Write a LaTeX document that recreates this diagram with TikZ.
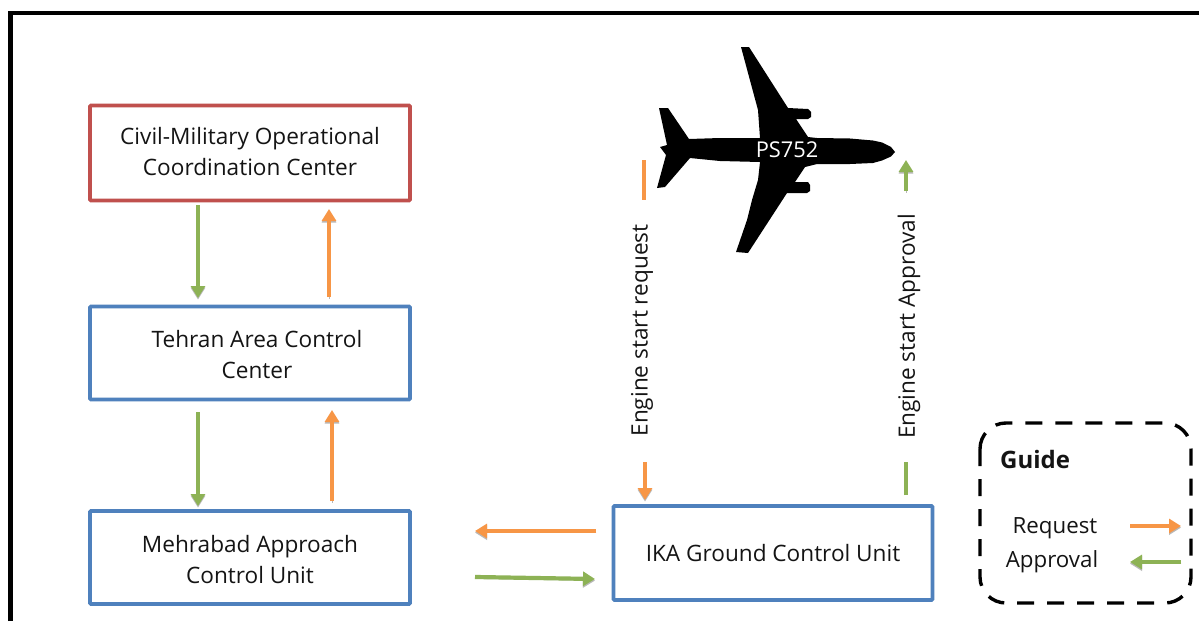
\documentclass[tikz,border=0pt]{standalone}
\usepackage{fontspec}
\setmainfont{Open Sans}
\usetikzlibrary{arrows.meta}
\definecolor{boxblue}{HTML}{4F81BD}
\definecolor{boxred}{HTML}{C0504D}
\definecolor{reqorange}{HTML}{F79646}
\definecolor{appgreen}{HTML}{8DB255}
\tikzset{
  ctrlbox/.style={draw=boxblue,line width=3.8pt,rounded corners=1pt,fill=white,anchor=north west,inner sep=0pt,outer sep=0pt},
  redbox/.style={ctrlbox,draw=boxred},
  boxtext/.style={font=\fontsize{22.6pt}{31pt}\selectfont,align=center,text=black!92,inner sep=0pt},
  softshadow/.style={preaction={draw=black!28,transform canvas={yshift=-1.6pt}}},
  reqarrow/.style={softshadow,draw=reqorange,line width=4.2pt,-{Triangle[length=12pt,width=14pt]}},
  apparrow/.style={softshadow,draw=appgreen,line width=4.2pt,-{Triangle[length=12pt,width=14pt]}},
  reqbar/.style={draw=reqorange,line width=4.2pt},
  appbar/.style={draw=appgreen,line width=4.2pt},
  vlabel/.style={rotate=90,font=\fontsize{22.6pt}{26pt}\selectfont,text=black!92,inner sep=0pt},
  plainlabel/.style={font=\fontsize{22.3pt}{26pt}\selectfont,text=black!92,inner sep=0pt},
  frameline/.style={draw=black,line width=4.5pt},
  guidebox/.style={draw=black,line width=3.4pt,dash pattern=on 17pt off 13pt,rounded corners=26pt},
}
\begin{document}
\begin{tikzpicture}[x=1pt,y=-1pt]
\useasboundingbox (0,0) rectangle (1199,621);
\fill[white] (0,0) rectangle (1199,621);
% outer frame
\coordinate (fa) at (10.5,621);
\coordinate (fb) at (10.5,13);
\coordinate (fc) at (1199,13);
\draw[frameline] (fa) -- (fb) -- (fc);
% boxes
\node[redbox,minimum width=320pt,minimum height=95pt] (civil) at (90,105.5) {};
\node[ctrlbox,minimum width=320pt,minimum height=93pt] (tehran) at (90,306.5) {};
\node[ctrlbox,minimum width=320pt,minimum height=93pt] (mehr) at (90,511) {};
\node[ctrlbox,minimum width=319pt,minimum height=94pt] (ika) at (613.5,506) {};
\node[boxtext] (civiltxt) at (250,151.5) {Civil-Military Operational\\Coordination Center};
\node[boxtext] (tehrantxt) at (257,354.5) {Tehran Area Control\\Center};
\node[boxtext] (mehrtxt) at (250,559.5) {Mehrabad Approach\\Control Unit};
\node[boxtext] (ikatxt) at (773,553) {IKA Ground Control Unit};
% aeroplane
\fill[black] (741,47) -- (749,47) -- (788,108) -- (808,109) -- (811,112) -- (811,117) -- (808,119) -- (796,119)
  -- (808,137) -- (817,138) -- (850,138.5) -- (873,140.5) -- (882,142.5) -- (891,147) -- (895,152) -- (891,156.5) -- (882,160.5) -- (873,163) -- (850,164) -- (817,164) -- (805,167)
  -- (795,182) -- (808,182) -- (810,185) -- (810,191) -- (807,193) -- (787,193) -- (748,253) -- (736,252) -- (747,220)
  -- (752,200) -- (758,180) -- (760,162) -- (720,161) -- (690,158) -- (665,187) -- (657,188) -- (666,155) -- (660,147) -- (667,145)
  -- (659,108) -- (668,108) -- (689,139) -- (720,138) -- (760,138) -- (758,110) -- (748,73) -- cycle;
\node[text=white,font=\fontsize{21.8pt}{24pt}\selectfont,inner sep=0pt] (flight) at (787,149.5) {PS752};
% vertical links, left column
\coordinate (c1) at (198,205); \coordinate (t1) at (198,298);
\coordinate (t2) at (329,297); \coordinate (c2) at (329,209);
\coordinate (t3) at (198,412); \coordinate (m1) at (198,506);
\coordinate (m2) at (332,501); \coordinate (t4) at (332,410);
\draw[apparrow] (c1) -- (t1);
\draw[reqarrow] (t2) -- (c2);
\draw[apparrow] (t3) -- (m1);
\draw[reqarrow] (m2) -- (t4);
% horizontal links
\coordinate (i1) at (596,531); \coordinate (m3) at (475,531);
\coordinate (m4) at (475,577); \coordinate (i2) at (595,579);
\draw[reqarrow] (i1) -- (m3);
\draw[apparrow] (m4) -- (i2);
% engine start request
\coordinate (p1) at (644,160); \coordinate (p2) at (644,200);
\coordinate (p3) at (645,462); \coordinate (p4) at (645,500);
\draw[reqbar] (p1) -- (p2);
\draw[reqarrow] (p3) -- (p4);
\node[vlabel] (reqtxt) at (642,330.5) {Engine start request};
% engine start approval
\coordinate (q1) at (906,495); \coordinate (q2) at (906,462);
\coordinate (q3) at (906,191); \coordinate (q4) at (906,160);
\draw[appbar] (q1) -- (q2);
\draw[apparrow] (q3) -- (q4);
\node[vlabel] (apptxt) at (909,326.5) {Engine start Approval};
% guide
\coordinate (g1) at (980,423); \coordinate (g2) at (1191,603);
\draw[guidebox] (g1) rectangle (g2);
\node[font=\bfseries\fontsize{24pt}{26pt}\selectfont,text=black!92,inner sep=0pt,anchor=west] (guidetxt) at (1000,459) {Guide};
\node[plainlabel] (request) at (1055,528) {Request};
\node[plainlabel] (approval) at (1052,562) {Approval};
\coordinate (g3) at (1130,526); \coordinate (g4) at (1181,526);
\coordinate (g5) at (1181,562); \coordinate (g6) at (1130,562);
\draw[reqarrow] (g3) -- (g4);
\draw[apparrow] (g5) -- (g6);
\end{tikzpicture}
\end{document}
